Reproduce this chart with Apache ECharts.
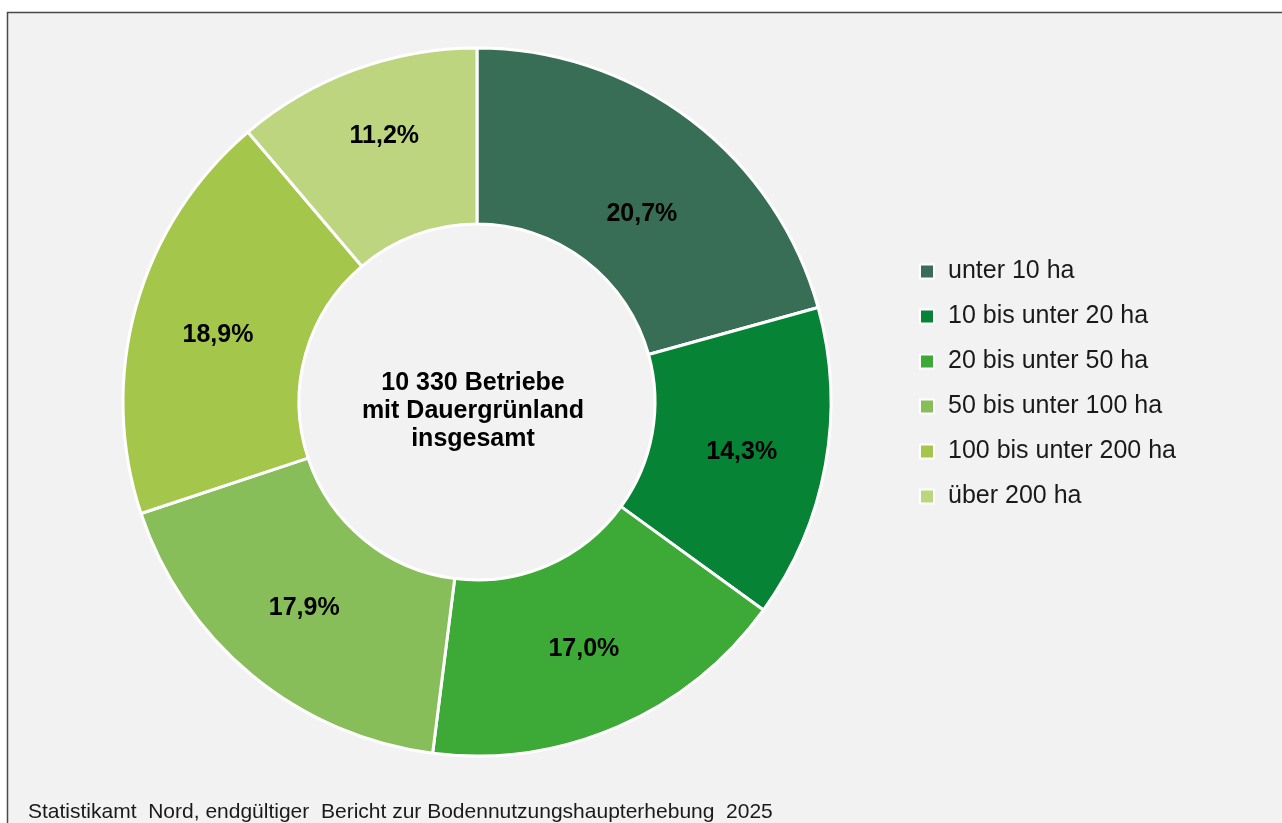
<!DOCTYPE html>
<html>
<head>
<meta charset="utf-8">
<style>
  html, body { margin: 0; padding: 0; background: #ffffff; }
  #chart { width: 1282px; height: 823px; }
</style>
<script src="https://cdn.jsdelivr.net/npm/echarts@6/dist/echarts.min.js"></script>
</head>
<body>
<div id="chart"></div>
<script>
// Betriebe mit Dauergrünland nach Größenklassen (Anteil in %)
const categories = [
  "unter 10 ha",
  "10 bis unter 20 ha",
  "20 bis unter 50 ha",
  "50 bis unter 100 ha",
  "100 bis unter 200 ha",
  "über 200 ha"
];
const shares = [20.7, 14.3, 17.0, 17.9, 18.9, 11.2];
const centerLines = ["10 330 Betriebe", "mit Dauergrünland", "insgesamt"];
const sourceText = "Statistikamt  Nord, endgültiger  Bericht zur Bodennutzungshaupterhebung  2025";

const palette = ["#376e55", "#078335", "#3da936", "#88be59", "#a4c64a", "#bdd57e"];
// small nudges so labels sit where the original puts them
const labelNudge = [[2, 26], [0, 2], [0, 0], [-2, -2], [0, 6], [0, -13]];
const FONT = "Liberation Sans, Arial, sans-serif";

function fmtPercent(v) {
  return v.toFixed(1).replace(".", ",") + "%";
}

const chart = echarts.init(document.getElementById("chart"), null, { renderer: "canvas" });

chart.setOption({
  backgroundColor: "#ffffff",
  animation: false,
  color: palette,
  legend: {
    orient: "vertical",
    left: 914,
    top: 254,
    icon: "rect",
    itemWidth: 14,
    itemHeight: 14,
    itemGap: 20,
    selectedMode: false,
    itemStyle: { borderColor: "#ffffff", borderWidth: 2 },
    textStyle: { fontFamily: FONT, fontSize: 25, color: "#1a1a1a", padding: [0, 0, 0, 9] },
    data: categories
  },
  graphic: [
    {
      type: "rect",
      z: -10,
      silent: true,
      shape: { x: 7.5, y: 12.5, width: 1300, height: 830 },
      style: { fill: "#f2f2f2", stroke: "#4a4a4a", lineWidth: 1.5 }
    },
    {
      type: "text",
      x: 473,
      y: 411,
      z: 10,
      style: {
        text: centerLines.join("\n"),
        fontFamily: FONT,
        fontSize: 25,
        fontWeight: "bold",
        lineHeight: 28,
        fill: "#000000",
        align: "center",
        verticalAlign: "middle"
      }
    },
    {
      type: "text",
      x: 28,
      y: 812,
      style: {
        text: sourceText,
        fontFamily: FONT,
        fontSize: 21,
        fill: "#1a1a1a",
        align: "left",
        verticalAlign: "middle"
      }
    }
  ],
  series: [
    {
      type: "pie",
      radius: [178, 354],
      center: [477, 402],
      startAngle: 90,
      clockwise: true,
      avoidLabelOverlap: false,
      itemStyle: { borderColor: "#ffffff", borderWidth: 3 },
      label: {
        show: true,
        position: "inside",
        formatter: (p) => fmtPercent(p.value),
        fontFamily: FONT,
        fontSize: 25,
        fontWeight: "bold",
        color: "#000000"
      },
      labelLine: { show: false },
      emphasis: { disabled: true },
      data: categories.map((name, i) => ({
        name,
        value: shares[i],
        label: { offset: labelNudge[i] }
      }))
    }
  ]
});
</script>
</body>
</html>
